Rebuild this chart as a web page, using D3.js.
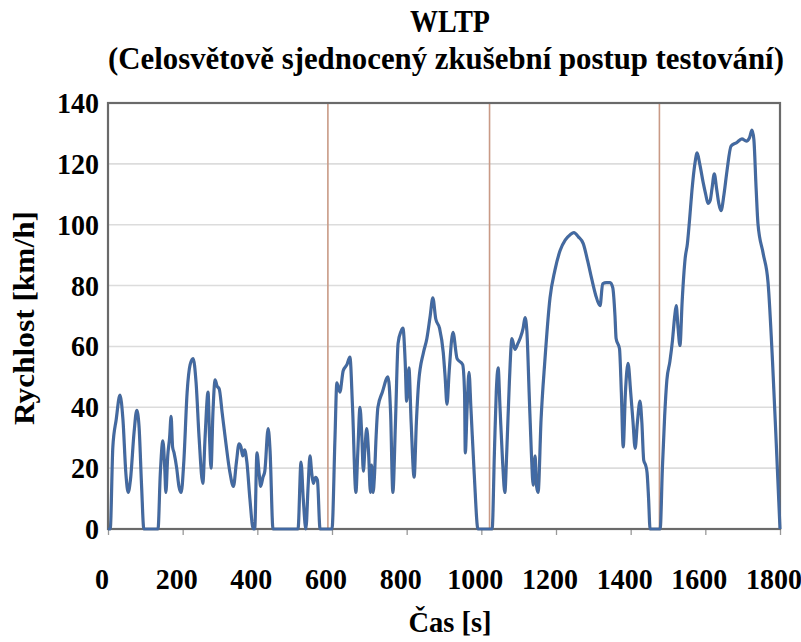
<!DOCTYPE html>
<html><head><meta charset="utf-8">
<script src="https://cdn.jsdelivr.net/npm/d3@7"></script>
</head>
<body style="margin:0">
<svg id="c" width="801" height="642"></svg>
<script>
const titleText = "WLTP";
const subtitleText = "(Celosvětově sjednocený zkušební postup testování)";
const xLabel = "Čas [s]";
const yLabel = "Rychlost [km/h]";
const xTicks = [0,200,400,600,800,1000,1200,1400,1600,1800];
const yTicks = [0,20,40,60,80,100,120,140];
const phaseBoundaries = [589,1022,1477];

const time = [0,6,13,22,32,40,48,54,60,70,77,83,90,96,134,140,147,152,155,160,165,169,173,177,184,190,196,203,212,220,228,236,244,254,260,268,272,276,281,287,292,298,306,316,326,336,344,351,356,361,366,372,380,389,393,399,405,409,415,420,429,434,442,509,517,523,530,536,541,546,550,556,561,568,600,608,613,621,630,640,648,655,664,669,675,680,684,688,693,698,703,706,710,714,718,723,735,750,757,763,770,777,785,790,796,800,806,812,820,826,832,845,854,863,870,878,888,898,903,908,914,924,935,950,955,957,962,967,972,981,991,1029,1035,1040,1045,1050,1057,1063,1068,1075,1082,1090,1098,1105,1112,1117,1122,1128,1134,1139,1144,1148,1152,1160,1170,1184,1197,1211,1225,1238,1248,1260,1273,1285,1296,1306,1318,1325,1335,1345,1352,1358,1361,1370,1375,1380,1386,1393,1400,1406,1412,1418,1425,1430,1435,1440,1444,1448,1452,1479,1485,1491,1497,1505,1512,1518,1522,1527,1532,1538,1546,1552,1558,1564,1572,1578,1585,1594,1601,1607,1613,1618,1624,1630,1636,1642,1650,1658,1669,1684,1698,1710,1718,1725,1730,1736,1741,1755,1768,1780,1790,1800];
const speed = [0,0,27,36,44,36,18,12,16,32,39,34,14,0,0,18,29,20,12,24,30,37,27,25,20,14,12,22,45,54,56,48,30,15,30,45,30,20,38,49,47,46,38,28,19,14,22,28,27,24,26,22,10,0,0,25,18,14,17,19,33,26,0,0,22,10,0,14,24,18,15,17,16,0,0,30,48,45,52,54,56.5,40,12,25,40,30,19,26,33,25,12,21,12,18,30,40,45,50,38,12,35,61,65,66,55,42,53,35,17,35,48,58,62.5,70,76,69,66,58,50,41,52,64.6,56,54,45,25,40,51.5,40,18,0,0,25,45,53,40,22,12,25,48,62.6,59,61,63,66,69.5,65,45,25,14.4,24,14,12,36,55,76,85,91.5,95,96.7,97.4,96,93.8,88,82,77,73.4,80.6,81,81,79.3,70,62.6,59.3,45,27,45,54.4,45,35.7,26.5,35,42,35,22.6,21,18.4,10,0,0,20,37,49,55,62,70,73.4,66,60.3,75,89,93.8,102,111,120,123.6,120,114,110,107,108,112,116.7,112,107,104.6,110,117.7,125.9,127,128.2,127.5,128.5,131.1,128,112,100.3,90.5,81,55,28,0];

const data = time.map((t,i)=>({t, v: speed[i]}));

const svg = d3.select("#c");
const L=108, R=780, T=103, B=529;
const x = d3.scaleLinear().domain([0,1800]).range([L,R]);
const y = d3.scaleLinear().domain([0,140]).range([B,T]);

// text at 28px (known to render serif), enlarged through transform
function txt(parent, tx, ty, sx, sy, anchor, s, rot){
  return parent.append("text")
    .attr("transform", `translate(${tx},${ty})` + (rot ? ` rotate(${rot})` : "") + ` scale(${sx},${sy})`)
    .attr("text-anchor", anchor)
    .attr("font-family","Liberation Serif").attr("font-weight","bold").attr("font-size",28)
    .attr("fill","#000").text(s);
}

// gridlines
svg.append("g").selectAll("line").data(yTicks.filter(d=>d>0 && d<140)).join("line")
  .attr("x1",L).attr("x2",R).attr("y1",d=>y(d)).attr("y2",d=>y(d))
  .attr("stroke","#dcdcdc").attr("stroke-width",1.6);

// phase boundaries
svg.append("g").selectAll("line").data(phaseBoundaries).join("line")
  .attr("x1",d=>x(d)).attr("x2",d=>x(d)).attr("y1",T).attr("y2",B)
  .attr("stroke","#c99a86").attr("stroke-width",1.6);

// x ticks (below axis)
const xAxis = d3.axisBottom(x).tickValues(xTicks).tickSize(6).tickFormat("");
const gx = svg.append("g").attr("transform",`translate(0,${B})`).call(xAxis);
gx.select(".domain").remove();
gx.selectAll(".tick text").remove();
gx.selectAll(".tick line").attr("stroke","#999").attr("stroke-width",1.3);

// frame
svg.append("rect").attr("x",L).attr("y",T).attr("width",R-L).attr("height",B-T)
  .attr("fill","none").attr("stroke","#6a6a6a").attr("stroke-width",2.2);

// line
const line = d3.line().x(d=>x(d.t)).y(d=>y(d.v)).curve(d3.curveMonotoneX);
svg.append("path").datum(data).attr("d",line)
  .attr("fill","none").attr("stroke","#4d6a94").attr("stroke-width",3.2).attr("stroke-linejoin","round");
svg.append("path").datum(data).attr("d",line)
  .attr("fill","none").attr("stroke","#3f6aa8").attr("stroke-width",1.6).attr("stroke-linejoin","round");

// tick labels
const gy = svg.append("g");
yTicks.forEach(d=> txt(gy, 99, y(d)+10, 1.0, 1.07, "end", d));
const gxl = svg.append("g");
xTicks.forEach(d=> txt(gxl, x(d)-6, 589, 1.0, 1.07, "middle", d));

// titles
txt(svg, 450, 32, 1.0, 1.1, "middle", titleText);
txt(svg, 446, 69, 1.1, 1.1, "middle", subtitleText);
txt(svg, 450, 632, 1.02, 1.07, "middle", xLabel);
txt(svg, 34, 318, 1.12, 1.08, "middle", yLabel, -90);
</script>
</body></html>
